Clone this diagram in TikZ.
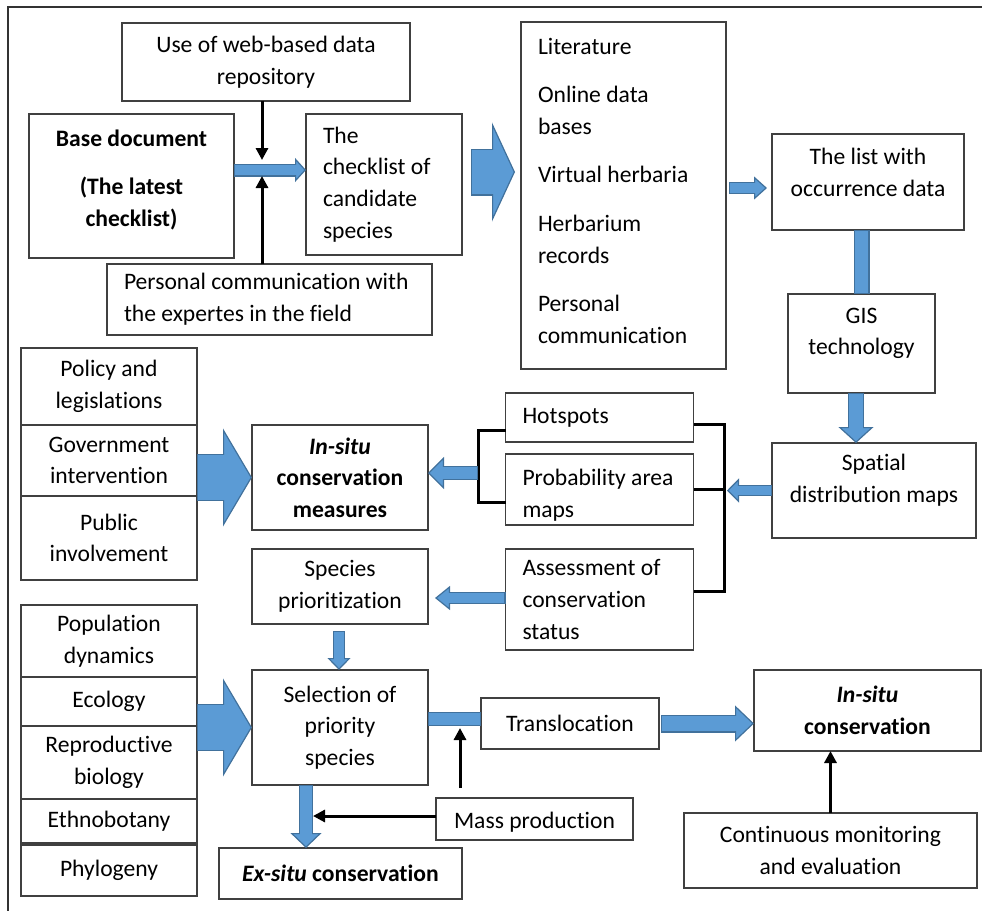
\documentclass[tikz,border=0pt]{standalone}
\usepackage{fontspec}
\setmainfont{Carlito}[Ligatures={TeX,NoCommon}]
\usetikzlibrary{arrows.meta,positioning,calc}
\definecolor{arrowfill}{HTML}{5B9BD5}
\definecolor{arrowedge}{HTML}{41719C}
\newcommand{\boxfont}{\fontsize{11.8}{15.8}\selectfont}
\newcommand{\lift}[1]{\rule[-#1]{0pt}{0pt}}
\newcommand{\sink}[1]{\rule{0pt}{#1}}

\begin{document}
\begin{tikzpicture} [
		x=0.5pt, y=-0.5pt,
		font=\boxfont,
		box/.style     = { rectangle, draw=black!75, line width=0.6pt,
			inner sep=0pt, outer sep=0pt, align=center },
		boldbox/.style = { box, font=\boxfont\bfseries },
		leftbox/.style = { box, align=flush left, inner xsep=8.5pt, text width=#1 },
		line/.style    = { draw=black, line width=1.5pt,
			-{Triangle[width=6pt, length=6pt]} },
		bracket/.style = { draw=black, line width=1.5pt },
		fat/.style n args = {3}{ draw=arrowedge, line width=#1,
			-{Triangle[width=#2, length=#3, fill=arrowfill, line width=0.6pt]},
			postaction={draw=arrowfill, line width=#1-1.2pt, arrows=-,
				shorten <=0.6pt, shorten >=#3-0.8pt} },
		bar/.style     = { draw=arrowedge, line width=#1,
			postaction={draw=arrowfill, line width=#1-1.2pt,
				shorten <=0.6pt, shorten >=0.6pt} },
	]
	\useasboundingbox (0,0) rectangle (982,911);
	\draw [black!80, line width=0.75pt] (982,7) -- (8,7) -- (8,911);
	% Define the boxes
	\begin{scope}
		\node [box, minimum width=144pt, minimum height=39pt] (web) at (266,62) {Use of web-based data\\repository};
		\node [boldbox, minimum width=102.5pt, minimum height=72pt] (base) at (131.5,186) {Base document\\[8.5pt](The latest\\checklist)\lift{8pt}};
		\node [leftbox=61pt, minimum height=70.5pt] (check) at (384,184.5) {The\\checklist of\\candidate\\species};
		\node [leftbox=145.5pt, minimum height=35.5pt] (pers) at (269.5,299.5) {Personal communication with\\the expertes in the field};
		\node [leftbox=85.5pt, minimum height=173.5pt] (lit) at (623.5,195.5) {Literature\\[8.5pt]Online data\\bases\\[8.5pt]Virtual herbaria\\[8.5pt]Herbarium\\records\\[8.5pt]Personal\\communication\lift{5pt}};
		\node [box, minimum width=96pt, minimum height=48pt] (list) at (868,182) {The list with\\occurrence data\lift{9.5pt}};
		\node [box, minimum width=73.5pt, minimum height=49.5pt] (gis) at (861.5,343.5) {GIS\\technology\lift{12pt}};
		\node [box, minimum width=102pt, minimum height=47.5pt] (spatial) at (874,490.5) {Spatial\\distribution maps\lift{12pt}};
		\node [leftbox=77pt, minimum height=24.5pt] (hot) at (599.5,417.5) {Hotspots};
		\node [leftbox=77pt, minimum height=35.5pt, below=6pt of hot] (prob) {\sink{14pt}Probability area\\maps};
		\node [leftbox=77pt, minimum height=50.5pt, below=12pt of prob] (assess) {Assessment of\\conservation\\status};
		\node [box, minimum width=88pt, minimum height=38.5pt] (policy) at (109,386.5) {Policy and\\legislations};
		\node [box, minimum width=88pt, minimum height=35.5pt, below=0pt of policy] (gov) {Government\\intervention};
		\node [box, minimum width=88pt, minimum height=42pt, below=0pt of gov] (public) {Public\\involvement};
		\node [boldbox, minimum width=88pt, minimum height=52.5pt] (measures) at (340,477.5) {\textit{In-situ}\\conservation\\measures};
		\node [box, minimum width=88pt, minimum height=37.5pt, below=9.5pt of measures] (prio) {Species\\prioritization};
		\node [box, minimum width=88pt, minimum height=36pt] (popdyn) at (109,641) {Population\\dynamics};
		\node [box, minimum width=88pt, minimum height=24.5pt, below=0pt of popdyn] (ecology) {Ecology};
		\node [box, minimum width=88pt, minimum height=36.5pt, below=0pt of ecology] (repro) {Reproductive\\biology};
		\node [box, minimum width=88pt, minimum height=22pt, below=0pt of repro] (ethno) {Ethnobotany};
		\node [box, minimum width=88pt, minimum height=25.5pt, below=1pt of ethno] (phylo) {Phylogeny};
		\node [box, minimum width=88pt, minimum height=57.5pt] (select) at (340,727.5) {Selection of\\priority\\species};
		\node [boldbox, minimum width=121.5pt, minimum height=25.5pt] (exsitu) at (340.5,873.5) {\textit{Ex-situ} conservation};
		\node [box, minimum width=89pt, minimum height=25.5pt] (transl) at (570,723.5) {Translocation};
		\node [boldbox, minimum width=113.5pt, minimum height=40.5pt] (insitu) at (867.5,710.5) {\textit{In-situ}\\conservation};
		\node [box, minimum width=98.5pt, minimum height=21pt] (mass) at (534.5,819) {\sink{11pt}Mass production};
		\node [box, minimum width=146.5pt, minimum height=37.5pt] (monitor) at (830.5,850.5) {Continuous monitoring\\and evaluation};
	\end{scope}
	% meeting points of the connectors
	\coordinate (join) at (262,170);
	\coordinate (rjoin) at (724,490);
	\coordinate (ljoin) at (478,473);
	\coordinate (drop) at (306,816);
	\coordinate (rise) at (460,719);
	% connect the boxes
	\begin{scope}
		\draw [fat={6.5pt}{12pt}{5.5pt}] (base.east |- join) -- (check.west |- join);
		\draw [line] (web.south -| join) -- ($(join)+(0,-10)$);
		\draw [line] (pers.north -| join) -- ($(join)+(0,6)$);
		\draw [fat={23.5pt}{49.5pt}{11.5pt}] ($(check.east)+(9,-12.5)$) -- ($(check.east -| lit.west)+(-6,-12.5)$);
		\draw [fat={6pt}{11.5pt}{6.5pt}] ($(list.west -| lit.east)+(3,6)$) -- ($(list.west)+(-5,6)$);
		\draw [bar=8pt] (gis.north |- list.south) -- (gis.north);
		\draw [fat={8pt}{17.5pt}{8pt}] ($(gis.south)+(-5.5,0)$) -- ($(gis.south |- spatial.north)+(-5.5,0)$);
		\draw [fat={5.5pt}{12pt}{6pt}] (spatial.west) -- ($(spatial.west -| rjoin)+(3,0)$);
		\draw [bracket] ($(hot.east)+(0,6.5)$) -| (rjoin) |- ($(assess.east)+(0,-8.5)$);
		\draw [bracket] (prob.east) -- (prob.east -| rjoin);
		\draw [bracket] ($(hot.west)+(0,12.5)$) -| (ljoin) |- ($(prob.west)+(0,12.5)$);
		\draw [fat={7pt}{16pt}{8pt}] (ljoin) -- (ljoin -| measures.east);
		\draw [fat={6pt}{12pt}{7.5pt}] ($(assess.west)+(0,-1.5)$) -- ($(assess.west -| prio.east)+(7,-1.5)$);
		\draw [fat={23.5pt}{49pt}{14.5pt}] (gov.east |- measures.west) -- (measures.west);
		\draw [fat={23.5pt}{49pt}{14.5pt}] (repro.east |- select.west) -- (select.west);
		\draw [fat={6pt}{11.5pt}{6pt}] ($(prio.south)+(-1,7)$) -- ($(select.north)+(-1,0)$);
		\draw [fat={7pt}{15.5pt}{7.5pt}] (drop |- select.south) -- (drop |- exsitu.north);
		\draw [line] (mass.west |- drop) -- ($(drop)+(7,0)$);
		\draw [bar=7pt] (select.east |- rise) -- (transl.west |- rise);
		\draw [line] ($(mass.north -| rise)+(0,-10)$) -- ($(rise)+(0,9)$);
		\draw [fat={9pt}{18pt}{9.5pt}] ($(transl.east)+(2,0)$) -- (insitu.west |- transl.east);
		\draw [line] (monitor.north) -- (monitor.north |- insitu.south);
	\end{scope}
\end{tikzpicture}
\end{document}
